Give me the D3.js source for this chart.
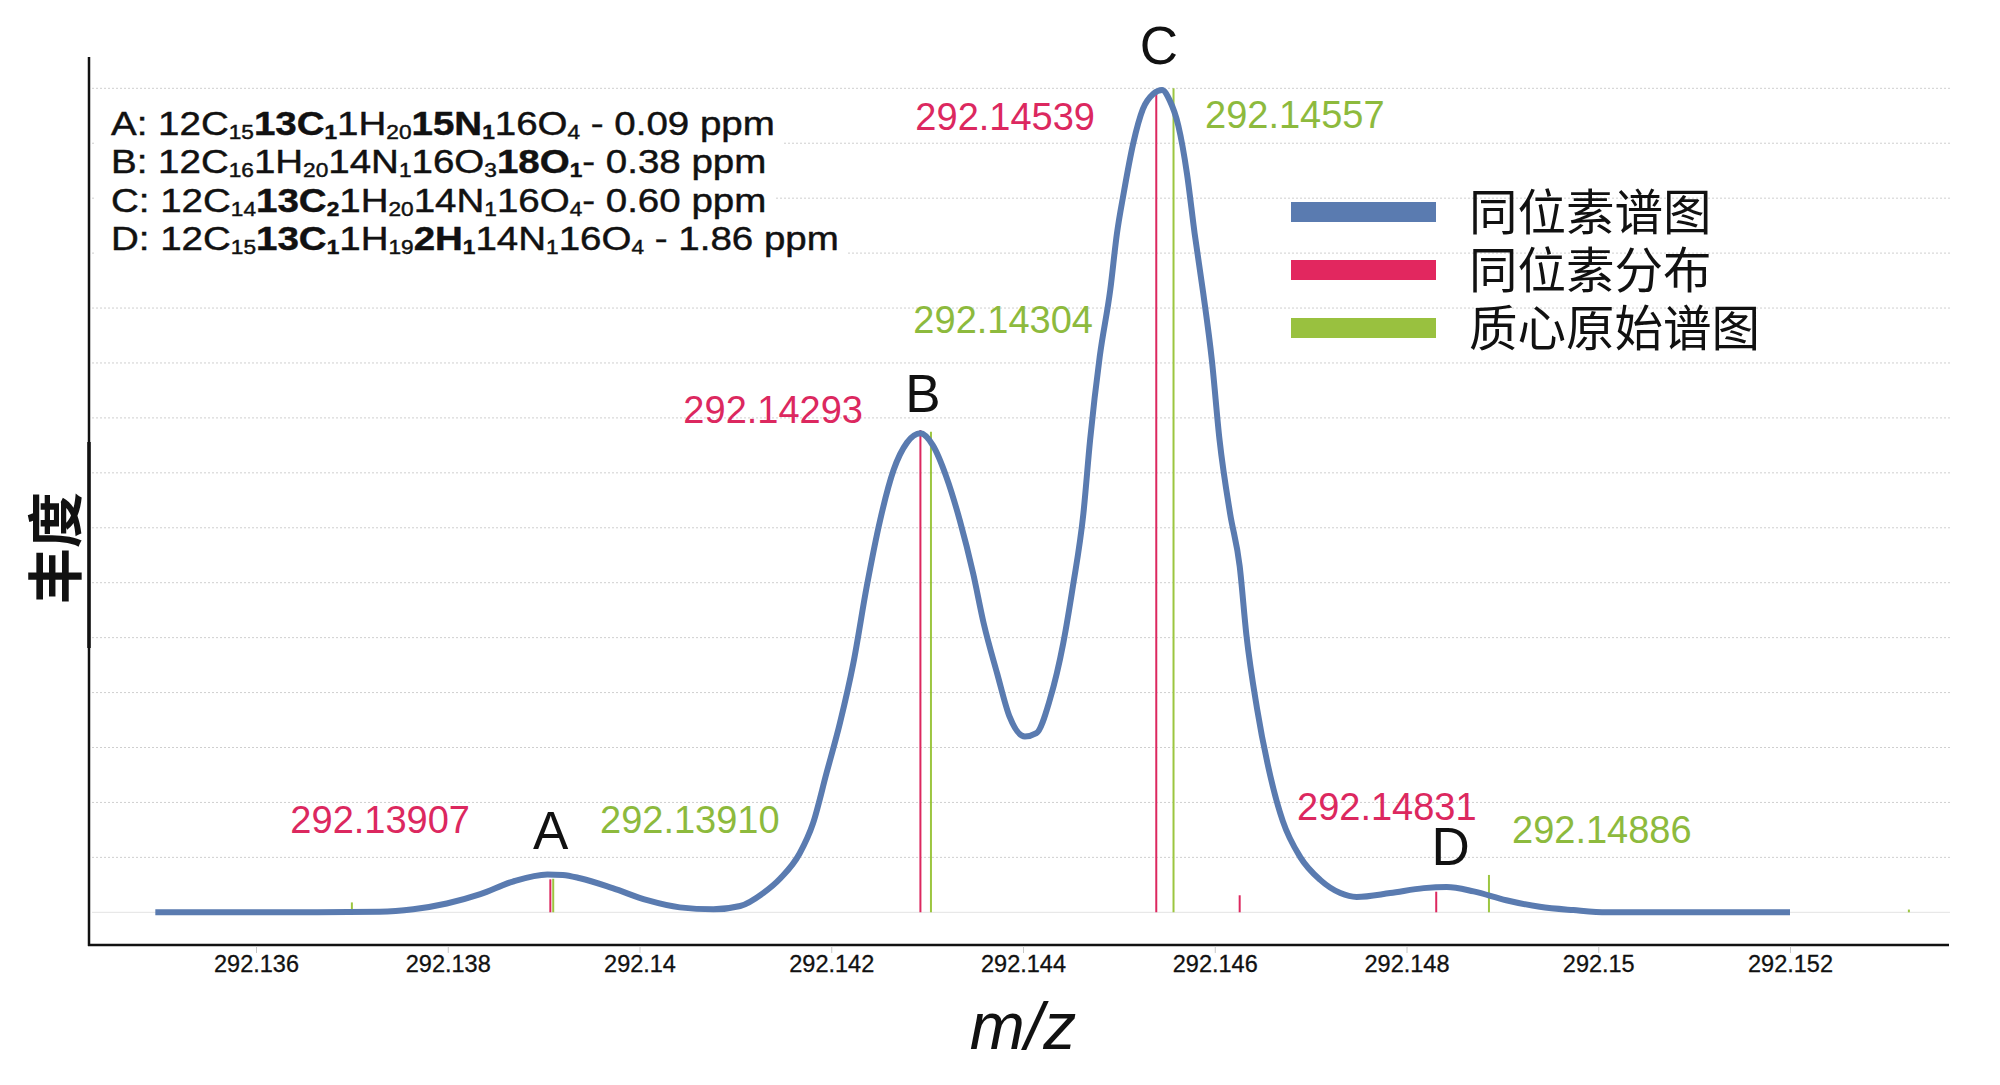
<!DOCTYPE html>
<html><head><meta charset="utf-8">
<script src="https://cdn.jsdelivr.net/npm/d3@7"></script>
<style>body{margin:0;background:#fff;} svg{display:block;}</style>
</head><body>
<svg id="c" width="2000" height="1085"></svg>
<script>
// ---------- DATA ----------
const curveMz = [292.13495,292.13646,292.13729,292.13764,292.13799,292.13834,292.13868,292.13904,292.13920,292.13938,
 292.13972,292.14008,292.14042,292.14077,292.14105,292.14129,292.14147,292.14167,292.14181,292.14195,
 292.14209,292.14223,292.14237,292.14251,292.14265,292.14279,292.14293,292.14306,292.14320,292.14334,
 292.14348,292.14359,292.14373,292.14386,292.14402,292.14414,292.14428,292.14442,292.14452,292.14463,
 292.14470,292.14480,292.14491,292.14498,292.14505,292.14515,292.14525,292.14536,292.14545,292.14553,
 292.14562,292.14571,292.14579,292.14588,292.14597,292.14605,292.14616,292.14626,292.14633,292.14644,
 292.14658,292.14671,292.14689,292.14710,292.14731,292.14748,292.14783,292.14818,292.14842,292.14870,
 292.14904,292.14939,292.14974,292.15009,292.15200];
const curveInt = [0,0,0.001,0.0055,0.016,0.033,0.056,0.069,0.068,0.062,
 0.044,0.022,0.009,0.0055,0.0115,0.035,0.062,0.107,0.162,0.253,
 0.344,0.453,0.593,0.714,0.805,0.855,0.872,0.850,0.793,0.714,
 0.617,0.526,0.435,0.356,0.320,0.326,0.387,0.490,0.593,0.726,
 0.860,1.011,1.133,1.236,1.309,1.400,1.462,1.490,1.497,1.478,
 1.432,1.345,1.236,1.127,1.005,0.860,0.726,0.630,0.505,0.372,
 0.248,0.166,0.101,0.059,0.035,0.028,0.035,0.044,0.046,0.038,
 0.022,0.010,0.004,0,0];

// isotope distribution sticks (red)
const distMz  = [292.13907, 292.14293, 292.14539, 292.14626, 292.14831];
const distInt = [0.060, 0.878, 1.497, 0.031, 0.0375];
// centroid raw spectrum sticks (green)
const centMz  = [292.13700, 292.13910, 292.14304, 292.14557, 292.14886, 292.15324];
const centInt = [0.018, 0.061, 0.875, 1.500, 0.068, 0.005];

// labelled peaks
const labelledDist = [292.13907, 292.14293, 292.14539, 292.14831];
const labelledCent = [292.13910, 292.14304, 292.14557, 292.14886];
const peakNames = ["A", "B", "C", "D"];

const xTicks = [292.136, 292.138, 292.140, 292.142, 292.144, 292.146, 292.148, 292.150, 292.152];
const xTickLabels = ["292.136","292.138","292.14","292.142","292.144","292.146","292.148","292.15","292.152"];
const yGrid = d3.range(0, 16).map(i => i / 10);

const legendNames = ["同位素谱图", "同位素分布", "质心原始谱图"];
const xLabel = "m/z";
const yLabel = "丰度";

// formula rows: [text, bold, subscript]
const formulaRows = [
  [["A: 12C"],["15",0,1],["13C",1],["1",1,1],["1H"],["20",0,1],["15N",1],["1",1,1],["16O"],["4",0,1],[" - 0.09 ppm"]],
  [["B: 12C"],["16",0,1],["1H"],["20",0,1],["14N"],["1",0,1],["16O"],["3",0,1],["18O",1],["1",1,1],["- 0.38 ppm"]],
  [["C: 12C"],["14",0,1],["13C",1],["2",1,1],["1H"],["20",0,1],["14N"],["1",0,1],["16O"],["4",0,1],["- 0.60 ppm"]],
  [["D: 12C"],["15",0,1],["13C",1],["1",1,1],["1H"],["19",0,1],["2H",1],["1",1,1],["14N"],["1",0,1],["16O"],["4",0,1],[" - 1.86 ppm"]]
];

// ---------- STYLE / LAYOUT ----------
const C_BLUE = "#5a7bb0", C_RED = "#dc285f", C_GREEN = "#8dba3d", C_GREEN_LINE = "#9cc640";
const LATIN = "'Liberation Sans', Arial, Helvetica, sans-serif";
const CJK = "'Noto Sans CJK SC', 'Noto Sans CJK JP', sans-serif";

const svg = d3.select("#c");
const x = d3.scaleLinear().domain([292.136, 292.152]).range([256, 1790]);
const y = d3.scaleLinear().domain([0, 1.5]).range([912.3, 88.3]);

// grid
svg.append("g").selectAll("line").data(yGrid).join("line")
  .attr("x1", 92).attr("x2", 1950)
  .attr("y1", d => y(d)).attr("y2", d => y(d))
  .attr("stroke", (d, i) => i === 0 ? "#e3e3e3" : "#cfcfcf")
  .attr("stroke-width", 1)
  .attr("stroke-dasharray", (d, i) => i === 0 ? null : "2,2");

// axes
svg.append("line").attr("x1", 89).attr("x2", 89).attr("y1", 57).attr("y2", 946)
  .attr("stroke", "#111").attr("stroke-width", 2.5);
svg.append("line").attr("x1", 89).attr("x2", 89).attr("y1", 442).attr("y2", 648)
  .attr("stroke", "#111").attr("stroke-width", 3.5);
svg.append("line").attr("x1", 88).attr("x2", 1949).attr("y1", 945).attr("y2", 945)
  .attr("stroke", "#111").attr("stroke-width", 2.5);

const xAxis = d3.axisBottom(x).tickValues(xTicks).tickSize(7).tickPadding(8)
  .tickFormat((d, i) => xTickLabels[i]);
const gx = svg.append("g").attr("transform", "translate(0,946)").call(xAxis);
gx.select(".domain").remove();
gx.selectAll(".tick line").attr("stroke", "#c8c8c8").attr("stroke-width", 1);
gx.selectAll(".tick text").attr("font-family", LATIN).attr("font-size", 23.5).attr("fill", "#111")
  .attr("stroke", "#111").attr("stroke-width", 0.3)
  .attr("dy", null).attr("y", 25.5);

// sticks (under the curve)
const sticks = svg.append("g");
sticks.selectAll(".r").data(distMz).join("line").attr("class", "r")
  .attr("x1", d => x(d)).attr("x2", d => x(d))
  .attr("y1", y(0)).attr("y2", (d, i) => y(distInt[i]))
  .attr("stroke", C_RED).attr("stroke-width", 2);
sticks.selectAll(".g").data(centMz).join("line").attr("class", "g")
  .attr("x1", d => x(d)).attr("x2", d => x(d))
  .attr("y1", y(0)).attr("y2", (d, i) => y(centInt[i]))
  .attr("stroke", C_GREEN_LINE).attr("stroke-width", 2);

// curve
const pts = curveMz.map((m, i) => [m, curveInt[i]]);
svg.append("path").datum(pts)
  .attr("d", d3.line().x(d => x(d[0])).y(d => y(d[1])).curve(d3.curveMonotoneX))
  .attr("fill", "none").attr("stroke", C_BLUE).attr("stroke-width", 6)
  .attr("stroke-linejoin", "round").attr("stroke-linecap", "butt");

// peak letters
const letterPos = [[550.7, 849], [923, 411.5], [1159, 64], [1450.7, 865]];
svg.append("g").selectAll("text").data(peakNames).join("text")
  .attr("x", (d, i) => letterPos[i][0]).attr("y", (d, i) => letterPos[i][1])
  .attr("text-anchor", "middle").attr("font-family", LATIN).attr("font-size", 53)
  .attr("fill", "#111").text(d => d);

// number labels
const fmt = d3.format(".5f");
const redPos = [[470, 833, "end"], [863, 423, "end"], [1095, 130, "end"], [1297, 820, "start"]];
const greenPos = [[600, 833, "start"], [1093, 333, "end"], [1205, 128, "start"], [1512, 843, "start"]];
svg.append("g").selectAll("text").data(labelledDist).join("text")
  .attr("x", (d, i) => redPos[i][0]).attr("y", (d, i) => redPos[i][1])
  .attr("text-anchor", (d, i) => redPos[i][2])
  .attr("font-family", LATIN).attr("font-size", 38).attr("fill", C_RED).text(d => fmt(d));
svg.append("g").selectAll("text").data(labelledCent).join("text")
  .attr("x", (d, i) => greenPos[i][0]).attr("y", (d, i) => greenPos[i][1])
  .attr("text-anchor", (d, i) => greenPos[i][2])
  .attr("font-family", LATIN).attr("font-size", 38).attr("fill", C_GREEN).text(d => fmt(d));

// formula block (white backing per row, as in the source image)
const bgG = svg.append("g");
const fg = svg.append("g");
const rowBase = [135, 173.5, 212, 250.5];
const rows = formulaRows.map((row, r) => {
  const t = fg.append("text").attr("x", 0).attr("y", rowBase[r])
    .attr("font-family", LATIN).attr("font-size", 34).attr("fill", "#111")
    .attr("stroke", "#111").attr("stroke-width", 0.45);
  let shifted = false;
  row.forEach(seg => {
    const ts = t.append("tspan").text(seg[0]);
    if (seg[1]) ts.attr("font-weight", "bold");
    if (seg[2]) { ts.attr("font-size", 20).attr("dy", 4); shifted = true; }
    else if (shifted) { ts.attr("dy", -4); shifted = false; }
  });
  return t;
});
const w0 = rows[0].node().getBBox().width;
const k = 664 / w0;
fg.attr("transform", `translate(111,0) scale(${k},1)`);
rows.forEach((t, r) => {
  const w = t.node().getBBox().width * k;
  bgG.append("rect").attr("x", 95).attr("y", rowBase[r] - 30)
    .attr("width", w + 24).attr("height", 39).attr("fill", "#fff");
});

// legend
const legY = [212, 270, 328];
const legColors = [C_BLUE, "#e2275f", "#99c13f"];
const lg = svg.append("g");
lg.selectAll("rect").data(legendNames).join("rect")
  .attr("x", 1291).attr("width", 145).attr("height", 20)
  .attr("y", (d, i) => legY[i] - 10).attr("fill", (d, i) => legColors[i]);
lg.selectAll("text").data(legendNames).join("text")
  .attr("x", 1469).attr("y", (d, i) => legY[i] + 18)
  .attr("font-family", CJK).attr("font-size", 48.5).attr("fill", "#111").text(d => d);

// axis titles
svg.append("text").attr("x", 1023).attr("y", 1049).attr("text-anchor", "middle")
  .attr("font-family", LATIN).attr("font-style", "italic").attr("font-size", 66)
  .attr("fill", "#111").text(xLabel);
svg.append("text").attr("transform", "translate(76,548) rotate(-90)")
  .attr("text-anchor", "middle").attr("font-family", CJK).attr("font-weight", "bold")
  .attr("font-size", 56).attr("fill", "#111").text(yLabel);
</script>
</body></html>
